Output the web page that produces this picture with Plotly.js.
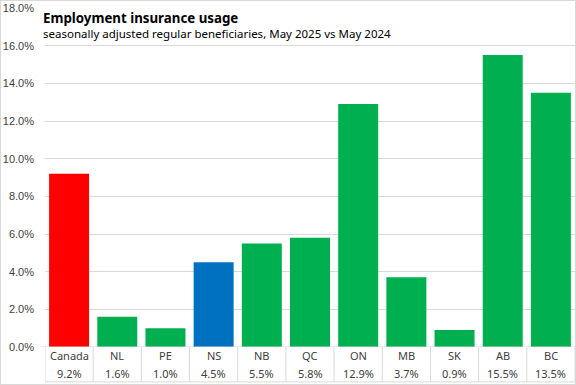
<!DOCTYPE html>
<html><head><meta charset="utf-8">
<script src="https://cdn.plot.ly/plotly-3.0.1.min.js"></script>
<style>
html,body{margin:0;padding:0;background:#fff;}
#chart{width:574px;height:383px;border:1px solid #d9d9d9;}
</style></head>
<body><div id="chart"></div>
<script>
const categories = ['Canada','NL','PE','NS','NB','QC','ON','MB','SK','AB','BC'];
const values = [9.2, 1.6, 1.0, 4.5, 5.5, 5.8, 12.9, 3.7, 0.9, 15.5, 13.5];
const barColors = ['#FF0000','#00B050','#00B050','#0070C0','#00B050','#00B050','#00B050','#00B050','#00B050','#00B050','#00B050'];
const yTicks = [0,2,4,6,8,10,12,14,16,18];
const yTickLabels = yTicks.map(v => v.toFixed(1) + '%');
const titleText = 'Employment insurance usage';
const subtitleText = 'seasonally adjusted regular beneficiaries, May 2025 vs May 2024';

const xs = categories.map((c,i)=>i);
const trace = {type:'bar', x: xs, y: values, marker:{color: barColors}, hoverinfo:'none'};

const tableFont = {family:'Noto Sans, sans-serif', size:11, color:'#404040'};
const annotations = [];
categories.forEach((c,i)=>{
  annotations.push({x:i, xref:'x', y:-0.025, yref:'paper', yanchor:'middle', xanchor:'center', text:c, showarrow:false, font:tableFont});
  annotations.push({x:i, xref:'x', y:-0.078, yref:'paper', yanchor:'middle', xanchor:'center', text:values[i].toFixed(1)+'%', showarrow:false, font:tableFont});
});
annotations.push({x:-0.008, xref:'paper', y:0.97, yref:'paper', xanchor:'left', yanchor:'middle', text:'<b>'+titleText+'</b>', showarrow:false, font:{family:'Noto Sans, sans-serif', size:13.3, color:'#000'}});
annotations.push({x:-0.008, xref:'paper', y:0.925, yref:'paper', xanchor:'left', yanchor:'middle', text:subtitleText, showarrow:false, font:{family:'Noto Sans, sans-serif', size:11.5, color:'#000'}});

const shapes = [];
for(let i=0;i<=categories.length;i++){
  shapes.push({type:'line', xref:'x', yref:'paper', x0:i-0.5, x1:i-0.5, y0:0, y1:-0.103, line:{color:'#d9d9d9', width:1}});
}
shapes.push({type:'line', xref:'x', yref:'paper', x0:-0.5, x1:categories.length-0.5, y0:-0.103, y1:-0.103, line:{color:'#d9d9d9', width:1}});
shapes.push({type:'line', xref:'paper', yref:'y', x0:-0.007, x1:1, y0:0, y1:0, line:{color:'#d9d9d9', width:1}});

const layout = {
  width:574, height:383,
  margin:{l:44, r:0, t:7, b:37, pad:0},
  paper_bgcolor:'#fff', plot_bgcolor:'#fff',
  showlegend:false,
  bargap:0.17,
  xaxis:{range:[-0.5, categories.length-0.5], showticklabels:false, showgrid:false, zeroline:false, showline:false, ticks:''},
  yaxis:{range:[0,18], tickvals:yTicks, ticktext:yTickLabels, showgrid:true, gridcolor:'#d9d9d9', gridwidth:1, zeroline:false, showline:false, ticks:'', ticklabelstandoff:10, tickfont:{family:'Liberation Sans, Arial, sans-serif', size:11, color:'#404040'}},
  annotations: annotations,
  shapes: shapes
};
Plotly.newPlot('chart', [trace], layout, {displayModeBar:false, staticPlot:true});
</script></body></html>
